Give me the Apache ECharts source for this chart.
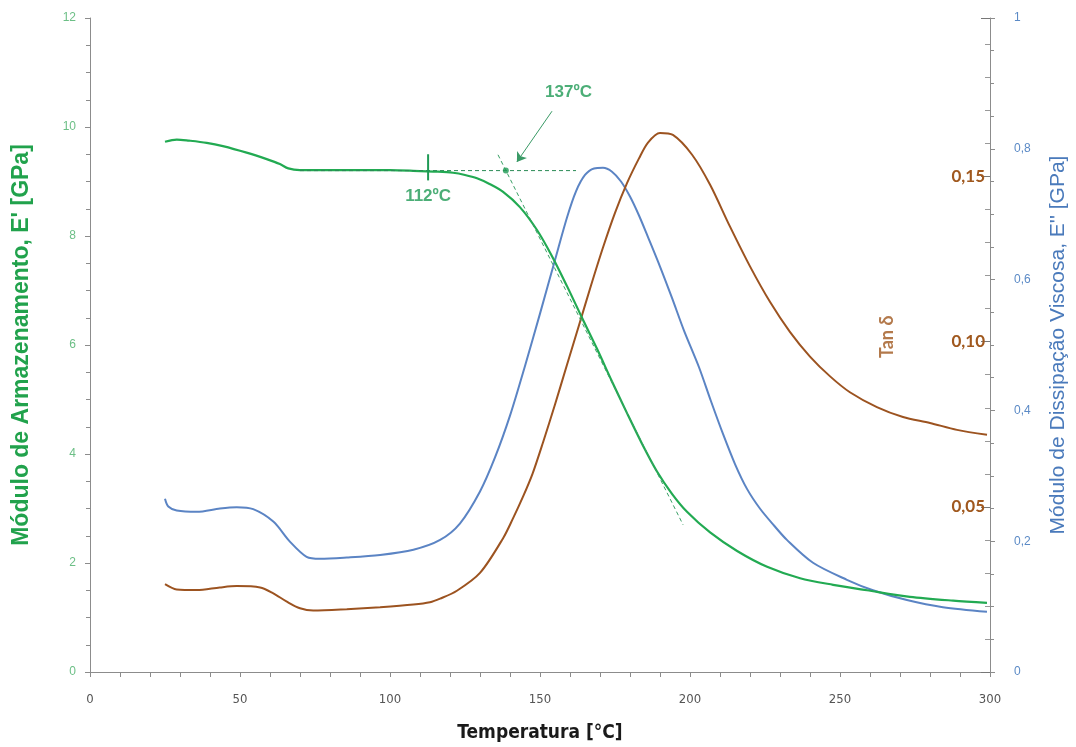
<!DOCTYPE html>
<html>
<head>
<meta charset="utf-8">
<script src="https://cdn.jsdelivr.net/npm/echarts@6/dist/echarts.min.js"></script>
<style>html,body{margin:0;padding:0;background:#fff}#c{width:1076px;height:747px}</style>
</head>
<body>
<div id="c"></div>
<script>
// ---- data ----
const tempStorage = [25, 28.9, 33, 38.9, 44.3, 52.2, 58.9, 63.3, 66.1, 70, 80, 90, 100, 110, 116, 121, 125, 129, 133, 137.7, 143.3, 149, 154, 159, 164, 169, 174, 179, 184, 189, 194, 199, 206.7, 215.7, 225.7, 236.7, 247.7, 259, 273.3, 287.7, 299];
const storageModulus = [9.73, 9.77, 9.75, 9.71, 9.65, 9.53, 9.41, 9.32, 9.24, 9.21, 9.21, 9.21, 9.21, 9.19, 9.18, 9.16, 9.12, 9.06, 8.96, 8.81, 8.53, 8.11, 7.63, 7.08, 6.50, 5.93, 5.33, 4.75, 4.19, 3.68, 3.27, 2.94, 2.56, 2.22, 1.93, 1.72, 1.60, 1.50, 1.38, 1.31, 1.27];

const tempLoss = [25, 26.1, 28.9, 35.6, 43.3, 48.9, 54.4, 61.1, 66.7, 72.2, 76.7, 85.6, 96.7, 107.8, 116.7, 123.3, 130, 135, 140, 145, 150, 155, 159, 162, 165, 168, 171, 174, 177, 180, 183, 186, 190, 194, 198, 203, 207, 211, 215, 219, 223.3, 228, 232.3, 241, 252.3, 261, 272.3, 284.3, 299];
const lossModulus = [0.265, 0.253, 0.247, 0.245, 0.250, 0.252, 0.249, 0.230, 0.199, 0.176, 0.173, 0.175, 0.179, 0.187, 0.202, 0.227, 0.276, 0.328, 0.392, 0.468, 0.548, 0.630, 0.695, 0.735, 0.760, 0.770, 0.771, 0.765, 0.750, 0.727, 0.698, 0.665, 0.620, 0.572, 0.522, 0.466, 0.414, 0.364, 0.318, 0.280, 0.250, 0.224, 0.202, 0.167, 0.141, 0.125, 0.110, 0.099, 0.092];

const tempTan = [25, 28.9, 35.6, 43.3, 48.9, 56.7, 61.1, 65.6, 70, 74.4, 85.6, 96.7, 107.8, 113.3, 116.7, 122.3, 130, 137.7, 141, 144.3, 147.5, 151, 155, 159, 163, 167, 171, 175, 179, 183, 186, 190, 194.3, 200.7, 206.7, 213.3, 220, 226.7, 233.3, 240, 246.7, 253.3, 262.3, 271, 280, 289, 299];
const tanDelta = [0.0266, 0.0250, 0.0248, 0.0256, 0.0260, 0.0256, 0.0238, 0.0213, 0.0193, 0.0186, 0.0190, 0.0196, 0.0204, 0.0211, 0.0222, 0.0246, 0.0300, 0.0405, 0.0465, 0.0530, 0.0600, 0.0695, 0.0810, 0.0930, 0.1050, 0.1170, 0.1285, 0.1390, 0.1480, 0.1555, 0.1603, 0.1632, 0.1626, 0.1566, 0.1475, 0.1349, 0.1228, 0.1120, 0.1030, 0.0955, 0.0895, 0.0847, 0.0802, 0.0772, 0.0754, 0.0733, 0.0718];

const tanDeltaLabels = [0.05, 0.10, 0.15];

// annotation geometry (data units)
const onsetHorizontal = [[70, 9.2], [162, 9.2]];
const tangentLine = [[136, 9.49], [197.7, 2.70]];
const onsetMark112 = [[112.7, 9.5], [112.7, 9.02]];
const onsetPoint137 = [138.6, 9.2];
const arrow137 = [[154, 10.29], [142.3, 9.36]];
const annotationTexts = [
  { value: [159.5, 10.64], name: '137ºC' },
  { value: [112.7, 8.73], name: '112ºC' }
];
const tanLabelPos = [265.7, 6.15];

const zip = (a, b) => a.map((v, i) => [v, b[i]]);
const comma = v => String(v).replace('.', ',');

const green = '#22aa52';
const annGreen = '#1f9a55';
const blue = '#5b84c4';
const brown = '#9c5320';
const brownLbl = '#a0581e';
const axisGray = '#8c8c8c';
const narrow = "'Liberation Sans Narrow','DejaVu Sans Condensed',sans-serif";

const chart = echarts.init(document.getElementById('c'), null, { renderer: 'canvas' });
chart.setOption({
  backgroundColor: '#fff',
  animation: false,
  grid: { left: 90, right: 86, top: 18, bottom: 75, containLabel: false, outerBoundsMode: 'none' },
  xAxis: {
    type: 'value', min: 0, max: 300, interval: 50,
    name: 'Temperatura [°C]', nameLocation: 'middle', nameGap: 52,
    nameTextStyle: { fontFamily: narrow, fontWeight: 'bold', fontSize: 19, color: '#1a1a1a' },
    axisLine: { lineStyle: { color: axisGray, width: 1 } },
    axisTick: { show: true, length: 5, lineStyle: { color: axisGray } },
    minorTick: { show: true, splitNumber: 5, length: 5, lineStyle: { color: axisGray } },
    axisLabel: { margin: 21, fontSize: 13, color: '#555', fontFamily: narrow },
    splitLine: { show: false }
  },
  yAxis: [
    {
      type: 'value', min: 0, max: 12, interval: 2, position: 'left',
      name: "Módulo de Armazenamento, E' [GPa]", nameLocation: 'middle', nameGap: 57, nameRotate: 90,
      nameTextStyle: { fontFamily: "'Liberation Sans',Arial,sans-serif", fontWeight: 'bold', fontSize: 23, color: '#21a24c' },
      axisLine: { show: true, lineStyle: { color: axisGray } },
      axisTick: { show: true, length: 5, lineStyle: { color: axisGray } },
      minorTick: { show: true, splitNumber: 4, length: 4, lineStyle: { color: axisGray } },
      axisLabel: { margin: 14, fontSize: 12, color: '#6cbf86', fontFamily: "'Liberation Sans',Arial,sans-serif" },
      splitLine: { show: false }
    },
    {
      type: 'value', min: 0, max: 1, interval: 0.2, position: 'right',
      name: "Módulo de Dissipação Viscosa, E'' [GPa]", nameLocation: 'middle', nameGap: 58, nameRotate: 90,
      nameTextStyle: { fontFamily: "'Liberation Sans',Arial,sans-serif", fontSize: 21, color: '#4a7abb' },
      axisLine: { show: true, lineStyle: { color: axisGray } },
      axisTick: { show: true, length: 5, lineStyle: { color: axisGray } },
      minorTick: { show: true, splitNumber: 4, length: 4, lineStyle: { color: axisGray } },
      axisLabel: { margin: 24, fontSize: 12, color: '#5b8ac6', fontFamily: "'Liberation Sans',Arial,sans-serif", formatter: v => comma(v) },
      splitLine: { show: false }
    },
    {
      type: 'value', min: 0, max: 0.198, interval: 0.05, position: 'right',
      axisLine: { show: false },
      axisTick: { show: true, inside: true, length: 9, lineStyle: { color: '#777' } },
      minorTick: { show: true, splitNumber: 5, length: 5, lineStyle: { color: '#999' } },
      axisLabel: {
        inside: true, margin: 5, fontSize: 17, fontWeight: 'bold', color: brownLbl,
        fontFamily: "Lato,'Open Sans',sans-serif", showMaxLabel: false, showMinLabel: false,
        formatter: v => tanDeltaLabels.some(t => Math.abs(t - v) < 1e-6) ? v.toFixed(2).replace('.', ',') : ''
      },
      splitLine: { show: false }
    }
  ],
  series: [
    { name: "E'", type: 'line', yAxisIndex: 0, data: zip(tempStorage, storageModulus), showSymbol: false, smooth: 0.3, lineStyle: { color: green, width: 2.2 }, z: 5 },
    { name: "E''", type: 'line', yAxisIndex: 1, data: zip(tempLoss, lossModulus), showSymbol: false, smooth: 0.3, lineStyle: { color: blue, width: 2 }, z: 4 },
    { name: 'Tan δ', type: 'line', yAxisIndex: 2, data: zip(tempTan, tanDelta), showSymbol: false, smooth: 0.3, lineStyle: { color: brown, width: 2 }, z: 4 },
    { type: 'line', yAxisIndex: 0, data: onsetHorizontal, showSymbol: false, lineStyle: { color: '#2a8a55', width: 1, type: [4, 3] }, z: 6, silent: true },
    { type: 'line', yAxisIndex: 0, data: tangentLine, showSymbol: false, lineStyle: { color: '#3aa066', width: 1, type: [4, 3] }, z: 6, silent: true },
    { type: 'line', yAxisIndex: 0, data: onsetMark112, showSymbol: false, lineStyle: { color: annGreen, width: 2 }, z: 6, silent: true },
    { type: 'scatter', yAxisIndex: 0, data: [onsetPoint137], symbolSize: 6, itemStyle: { color: annGreen }, z: 7, silent: true },
    {
      type: 'lines', coordinateSystem: 'cartesian2d', yAxisIndex: 0, silent: true, z: 6,
      symbol: ['none', 'arrow'], symbolSize: 9,
      lineStyle: { color: '#3a9a66', width: 1, opacity: 1 },
      data: [{ coords: arrow137 }]
    },
    {
      type: 'scatter', yAxisIndex: 0, data: annotationTexts, symbolSize: 0, silent: true, z: 8,
      label: { show: true, position: 'inside', formatter: p => p.name, fontSize: 17, fontWeight: 'bold', color: annGreen, fontFamily: "'Liberation Sans',Arial,sans-serif" }
    },
    {
      type: 'scatter', yAxisIndex: 0, data: [{ value: tanLabelPos, name: 'Tan δ' }], symbolSize: 0, silent: true, z: 8,
      label: { show: true, position: 'inside', rotate: 90, formatter: p => p.name, fontSize: 18, fontWeight: 'bold', color: brownLbl, fontFamily: "Lato,'Open Sans',sans-serif" }
    }
  ]
});
</script>
</body>
</html>
